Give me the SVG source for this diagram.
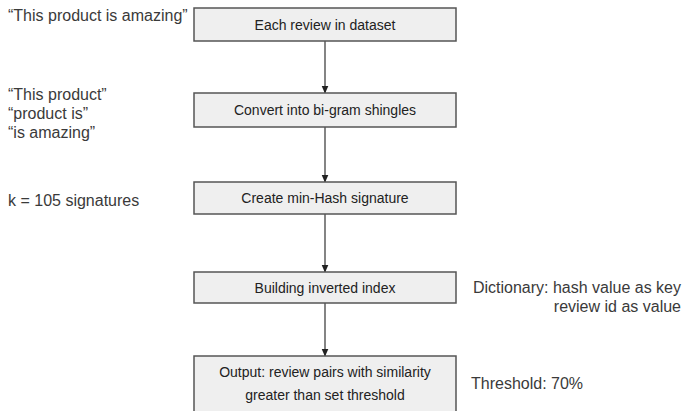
<svg xmlns="http://www.w3.org/2000/svg" width="683" height="411" viewBox="0 0 683 411">
<defs>
<style>
.box{fill:#efefef;stroke:#555;stroke-width:1.5}
.bt{font-family:"Liberation Sans",Arial,sans-serif;font-size:14px;fill:#222;text-anchor:middle}
.note{font-family:"Liberation Sans",Arial,sans-serif;font-size:16px;fill:#3a3a3a}
.conn{stroke:#333;stroke-width:1.2;fill:none;marker-end:url(#ah)}
</style>
<marker id="ah" viewBox="0 0 8 8" refX="7.5" refY="4" markerWidth="8" markerHeight="8" markerUnits="userSpaceOnUse" orient="auto">
<path d="M0,0.5 L8,4 L0,7.5 Z" fill="#222"/>
</marker>
</defs>
<rect width="683" height="411" fill="#fff"/>
<g id="connectors">
<line class="conn" x1="325" y1="41" x2="325" y2="93"/>
<line class="conn" x1="325" y1="127" x2="325" y2="182"/>
<line class="conn" x1="325" y1="214" x2="325" y2="272"/>
<line class="conn" x1="325" y1="303" x2="325" y2="356"/>
</g>
<g id="n1"><rect class="box" x="194" y="8" width="262" height="33"/><text class="bt" x="325" y="29.5">Each review in dataset</text></g>
<g id="n2"><rect class="box" x="194" y="93" width="262" height="34"/><text class="bt" x="325" y="115">Convert into bi-gram shingles</text></g>
<g id="n3"><rect class="box" x="194" y="182" width="262" height="32"/><text class="bt" x="325" y="203">Create min-Hash signature</text></g>
<g id="n4"><rect class="box" x="194" y="272" width="262" height="31"/><text class="bt" x="325" y="292.5">Building inverted index</text></g>
<g id="n5"><rect class="box" x="194" y="356" width="262" height="60"/><text class="bt" x="325" y="377">Output: review pairs with similarity</text><text class="bt" x="325" y="400">greater than set threshold</text></g>
<g id="notes">
<text class="note" x="8" y="21">“This product is amazing”</text>
<text class="note" x="8" y="100">“This product”</text>
<text class="note" x="8" y="119">“product is”</text>
<text class="note" x="8" y="138">“is amazing”</text>
<text class="note" x="8" y="206">k = 105 signatures</text>
<text class="note" x="681" y="293" text-anchor="end">Dictionary: hash value as key</text>
<text class="note" x="681" y="312" text-anchor="end">review id as value</text>
<text class="note" x="471" y="389">Threshold: 70%</text>
</g>
</svg>
